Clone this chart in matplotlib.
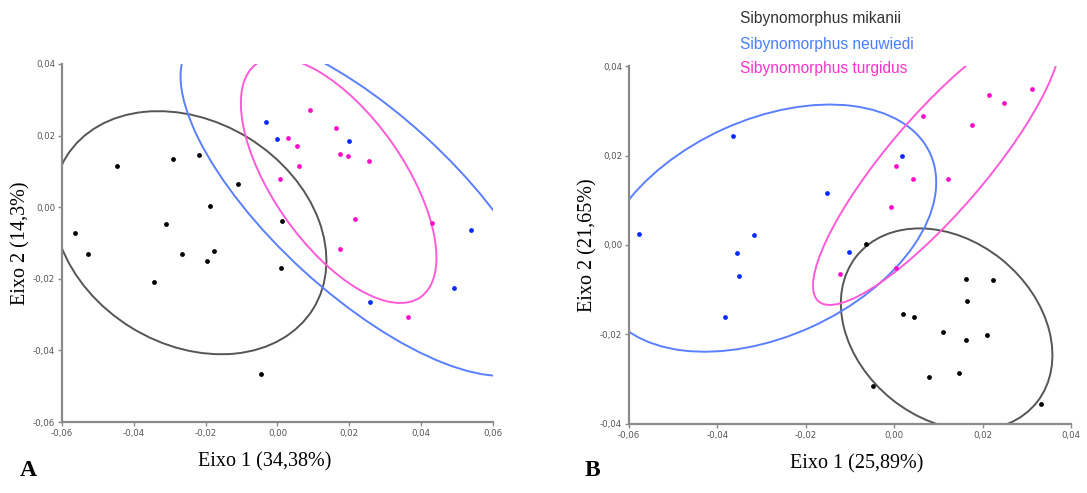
import numpy as np
import matplotlib
matplotlib.use("Agg")
import matplotlib.pyplot as plt
from matplotlib.patches import Ellipse
from matplotlib.ticker import FuncFormatter

# species names / colours
species = ["Sibynomorphus mikanii", "Sibynomorphus neuwiedi", "Sibynomorphus turgidus"]
text_colors = ["#333333", "#4a7dff", "#ff33cc"]
point_colors = ["#000000", "#0a2bff", "#ff10c8"]
ellipse_colors = ["#555555", "#5a7fff", "#ff5ad8"]

# panel A scores (Eixo 1 x Eixo 2)
a_mikanii_x = [-0.0563, -0.0528, -0.0447, -0.0345, -0.0310, -0.0292, -0.0266, -0.0218,
               -0.0197, -0.0189, -0.0176, -0.0109, -0.0045, 0.0010, 0.0013]
a_mikanii_y = [-0.0073, -0.0130, 0.0115, -0.0210, -0.0047, 0.0135, -0.0130, 0.0147,
               -0.0150, 0.0002, -0.0121, 0.0066, -0.0465, -0.0170, -0.0038]
a_neuwiedi_x = [-0.0031, 0.0000, 0.0199, 0.0257, 0.0491, 0.0538]
a_neuwiedi_y = [0.0237, 0.0190, 0.0184, -0.0264, -0.0227, -0.0063]
a_turgidus_x = [0.0091, 0.0030, 0.0054, 0.0061, 0.0006, 0.0162, 0.0175, 0.0197,
                0.0256, 0.0217, 0.0173, 0.0429, 0.0364]
a_turgidus_y = [0.0271, 0.0192, 0.0171, 0.0116, 0.0080, 0.0222, 0.0148, 0.0144,
                0.0129, -0.0032, -0.0117, -0.0045, -0.0306]

# panel B scores
b_mikanii_x = [-0.0065, 0.0162, 0.0224, 0.0165, 0.0020, 0.0045, 0.0111, 0.0209,
               0.0162, 0.0079, 0.0146, -0.0048, 0.0331]
b_mikanii_y = [0.0003, -0.0076, -0.0078, -0.0125, -0.0154, -0.0161, -0.0195, -0.0202,
               -0.0212, -0.0294, -0.0285, -0.0315, -0.0355]
b_neuwiedi_x = [-0.0577, -0.0365, -0.0318, -0.0355, -0.0352, -0.0383, -0.0152, -0.0102, 0.0017]
b_neuwiedi_y = [0.0024, 0.0244, 0.0022, -0.0019, -0.0069, -0.0162, 0.0116, -0.0016, 0.0199]
b_turgidus_x = [0.0066, 0.0214, 0.0248, 0.0312, 0.0177, 0.0004, 0.0043, 0.0122,
                -0.0008, 0.0004, -0.0123]
b_turgidus_y = [0.0289, 0.0336, 0.0317, 0.0349, 0.0268, 0.0176, 0.0148, 0.0148,
                0.0084, -0.0052, -0.0065]

a_xlabel = "Eixo 1 (34,38%)"
a_ylabel = "Eixo 2 (14,3%)"
b_xlabel = "Eixo 1 (25,89%)"
b_ylabel = "Eixo 2 (21,65%)"

# chi-square quantile used for the group ellipses
ELLIPSE_K2 = 4.605


def comma_fmt(v, pos):
    return f"{v:.2f}".replace(".", ",")


def add_ellipse(ax, x, y, color):
    x = np.asarray(x)
    y = np.asarray(y)
    cov = np.cov(x, y)
    vals, vecs = np.linalg.eigh(cov)
    angle = np.degrees(np.arctan2(vecs[1, 1], vecs[0, 1]))
    w = 2 * np.sqrt(ELLIPSE_K2 * vals[1])
    h = 2 * np.sqrt(ELLIPSE_K2 * vals[0])
    ax.add_patch(Ellipse((x.mean(), y.mean()), w, h, angle=angle,
                         fill=False, ec=color, lw=1.4))


def setup_panel(ax, groups, xlim, ylim, xticks, yticks, xlabel, ylabel, xlabel_pos):
    for (gx, gy), pc, ec in zip(groups, point_colors, ellipse_colors):
        add_ellipse(ax, gx, gy, ec)
        ax.scatter(gx, gy, s=12, color=pc, zorder=3, linewidths=0)
    ax.set_xlim(*xlim)
    ax.set_ylim(*ylim)
    ax.set_xticks(xticks)
    ax.set_yticks(yticks)
    ax.xaxis.set_major_formatter(FuncFormatter(comma_fmt))
    ax.yaxis.set_major_formatter(FuncFormatter(comma_fmt))
    for s in ["top", "right"]:
        ax.spines[s].set_visible(False)
    for s in ["left", "bottom"]:
        ax.spines[s].set_color("#8a8a8a")
        ax.spines[s].set_linewidth(1.6)
    ax.tick_params(length=3, width=1, color="#8a8a8a", labelsize=6.2,
                   labelcolor="#555555", pad=2)
    ax.set_xlabel(xlabel, family="Liberation Serif", fontsize=14.5)
    ax.xaxis.set_label_coords(xlabel_pos, -0.085)
    ax.set_ylabel(ylabel, family="Liberation Serif", fontsize=14.5, labelpad=2)


fig = plt.figure(figsize=(10.87, 4.93), dpi=100)
ax_a = fig.add_axes([0.0570, 0.1440, 0.3965, 0.7262])
ax_b = fig.add_axes([0.5787, 0.1400, 0.4066, 0.7261])

setup_panel(ax_a,
            [(a_mikanii_x, a_mikanii_y), (a_neuwiedi_x, a_neuwiedi_y), (a_turgidus_x, a_turgidus_y)],
            (-0.06, 0.06), (-0.06, 0.04),
            np.arange(-0.06, 0.061, 0.02), np.arange(-0.06, 0.041, 0.02),
            a_xlabel, a_ylabel, 0.47)
setup_panel(ax_b,
            [(b_mikanii_x, b_mikanii_y), (b_neuwiedi_x, b_neuwiedi_y), (b_turgidus_x, b_turgidus_y)],
            (-0.06, 0.04), (-0.04, 0.04),
            np.arange(-0.06, 0.041, 0.02), np.arange(-0.04, 0.041, 0.02),
            b_xlabel, b_ylabel, 0.515)

# legend text at the top
for i, (name, c) in enumerate(zip(species, text_colors)):
    fig.text(740 / 1087, 1 - (19 + 25 * i) / 493, name, color=c, fontsize=11.2,
             family="Liberation Sans", va="center", ha="left")

fig.text(28 / 1087, 1 - 470 / 493, "A", family="Liberation Serif", fontsize=17,
         fontweight="bold", ha="center", va="center")
fig.text(592 / 1087, 1 - 470 / 493, "B", family="Liberation Serif", fontsize=17,
         fontweight="bold", ha="center", va="center")

fig.savefig("out.png", dpi=100)
